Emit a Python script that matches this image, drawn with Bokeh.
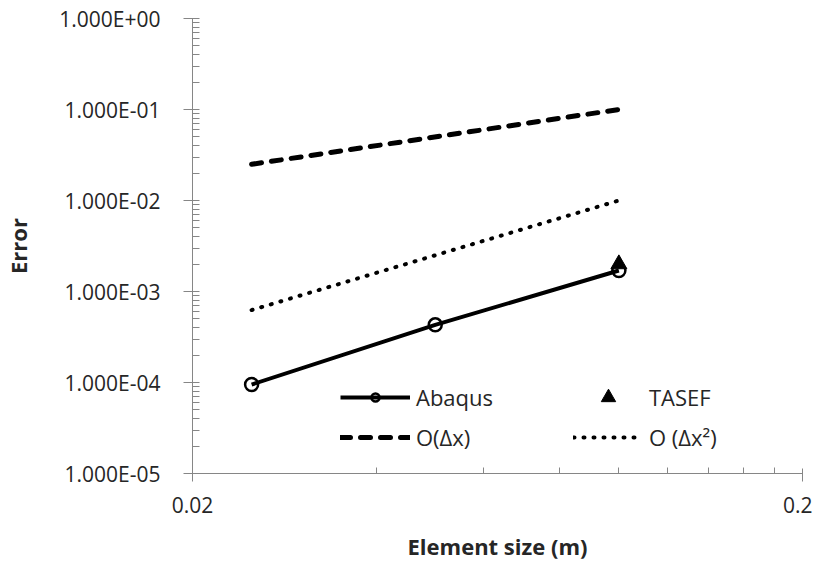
from bokeh.plotting import figure
from bokeh.models import Range1d, FixedTicker, Legend, LegendItem, CustomJSTickFormatter
from bokeh.embed import file_html
from bokeh.resources import INLINE

# ---- data ----
elem_size = [0.025, 0.05, 0.1]
abaqus_err = [9.5e-5, 4.3e-4, 1.7e-3]
tasef_size = [0.1]
tasef_err = [2.0e-3]
ref_size = [0.025, 0.1]
order1_err = [0.025, 0.1]
order2_err = [6.25e-4, 0.01]

y_ticks = [1e-5, 1e-4, 1e-3, 1e-2, 1e-1, 1.0]
y_tick_labels = ["1.000E-05", "1.000E-04", "1.000E-03", "1.000E-02", "1.000E-01", "1.000E+00"]
x_ticks = [0.02, 0.2]
x_tick_labels = ["0.02", "0.2"]
x_minor_ticks = [0.04, 0.06, 0.08, 0.10, 0.12, 0.14, 0.16, 0.18]
y_minor_ticks = [m * 10.0 ** k for k in range(-5, 0) for m in range(2, 10)]

FONT = "Open Sans"
TXT = "#262626"
AX = "#868686"

p = figure(width=812, height=563, x_axis_type="log", y_axis_type="log",
           x_range=Range1d(0.02, 0.2), y_range=Range1d(1e-5, 1.0),
           output_backend="svg", toolbar_location=None,
           min_border_left=192, min_border_right=10, min_border_top=18, min_border_bottom=90)
p.outline_line_color = None
p.grid.visible = False
p.background_fill_color = "white"

fmt_code = """
for (let i = 0; i < tvals.length; i++) {
  if (Math.abs(Math.log10(tick) - Math.log10(tvals[i])) < 1e-6) return tlabels[i];
}
return "";
"""
p.xaxis.ticker = FixedTicker(ticks=x_ticks, minor_ticks=x_minor_ticks)
p.yaxis.ticker = FixedTicker(ticks=y_ticks, minor_ticks=y_minor_ticks)
p.xaxis.formatter = CustomJSTickFormatter(args=dict(tvals=x_ticks, tlabels=x_tick_labels), code=fmt_code)
p.yaxis.formatter = CustomJSTickFormatter(args=dict(tvals=y_ticks, tlabels=y_tick_labels), code=fmt_code)

for ax in (p.xaxis[0], p.yaxis[0]):
    ax.axis_line_color = AX
    ax.major_tick_line_color = AX
    ax.minor_tick_line_color = AX
    ax.major_label_text_font = FONT
    ax.major_label_text_font_size = "21px"
    ax.major_label_text_color = TXT
    ax.axis_label_text_font = FONT
    ax.axis_label_text_font_style = "bold"
    ax.axis_label_text_font_size = "22px"
    ax.axis_label_text_color = TXT

p.yaxis.axis_label = "Error"
p.yaxis.major_tick_out = 9
p.yaxis.major_tick_in = 7
p.yaxis.minor_tick_in = 7
p.yaxis.minor_tick_out = 0
p.yaxis.major_label_standoff = 23
p.yaxis.axis_label_standoff = 23

p.xaxis.axis_label = "Element size (m)"
p.xaxis.major_tick_out = 8
p.xaxis.major_tick_in = 5
p.xaxis.minor_tick_in = 6
p.xaxis.minor_tick_out = 0
p.xaxis.major_label_standoff = 15
p.xaxis.axis_label_standoff = 15

r_o1 = p.line(ref_size, order1_err, line_color="black", line_width=5,
              line_dash="10 10", line_cap="round")
r_o2 = p.line(ref_size, order2_err, line_color="black", line_width=4,
              line_dash="1 9", line_cap="round")
r_ab = p.line(elem_size, abaqus_err, line_color="black", line_width=4)
r_abm = p.scatter(elem_size, abaqus_err, marker="circle", size=13, fill_alpha=0,
                  line_color="black", line_width=2.5)
r_ta = p.scatter(tasef_size, tasef_err, marker="triangle", size=16,
                 fill_color="black", line_color="black")

legend_style = dict(orientation="vertical", glyph_width=70,
                    spacing=10, padding=0, margin=0, label_standoff=6,
                    border_line_color=None, background_fill_alpha=0,
                    label_text_font=FONT, label_text_font_size="22px",
                    label_text_color=TXT)
legend_left = Legend(items=[
    LegendItem(label="Abaqus", renderers=[r_ab, r_abm]),
    LegendItem(label="O(Δx)", renderers=[r_o1]),
], location=(148, 21), glyph_height=20, **legend_style)
legend_tasef = Legend(items=[
    LegendItem(label="TASEF", renderers=[r_ta]),
], location=(381, 58), glyph_height=36, **legend_style)
legend_o2 = Legend(items=[
    LegendItem(label="O (Δx²)", renderers=[r_o2]),
], location=(381, 21), glyph_height=20, **legend_style)
p.add_layout(legend_left)
p.add_layout(legend_tasef)
p.add_layout(legend_o2)

open("out.html", "w").write(file_html(p, INLINE))
